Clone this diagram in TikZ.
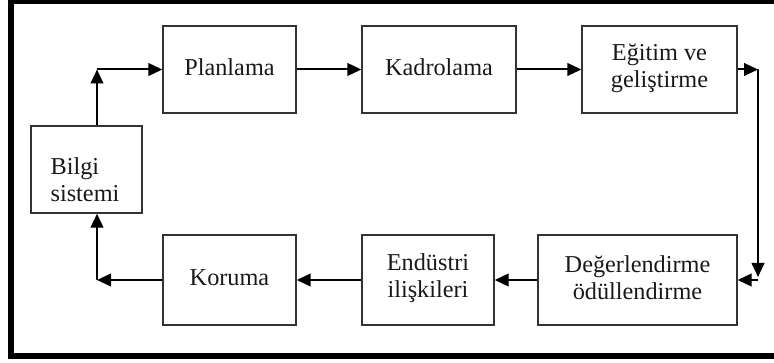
\documentclass[tikz,border=0pt]{standalone}
\usepackage{fontspec}
\setmainfont{Liberation Serif}
\usetikzlibrary{arrows.meta,calc}
\begin{document}
\begin{tikzpicture}[x=0.75pt,y=-0.75pt,
  box/.style={draw=black!80,line width=1pt,rectangle,inner sep=0pt},
  lbl/.style={font=\fontsize{18.2}{20.5}\selectfont,align=center,inner sep=0pt,text=black!90},
  conn/.style={line width=1.5pt,-{Triangle[length=10.5pt,width=9.5pt]}},
  plain/.style={line width=1.5pt}]
\useasboundingbox (0,0) rectangle (774,363);
% outer frame (right side outside the picture)
\draw[line width=3.8pt] (790,1) -- (11,1) -- (11,356) -- (790,356);
% boxes
\node[box,minimum width=133*0.75pt,minimum height=87*0.75pt] (plan) at (229.5,69.5) {};
\node[box,minimum width=154*0.75pt,minimum height=87*0.75pt] (kadro) at (439,69.5) {};
\node[box,minimum width=155*0.75pt,minimum height=87*0.75pt] (egitim) at (659.5,69.5) {};
\node[box,minimum width=111*0.75pt,minimum height=87*0.75pt] (bilgi) at (86.5,169.5) {};
\node[box,minimum width=133*0.75pt,minimum height=90*0.75pt] (koruma) at (229.5,280) {};
\node[box,minimum width=132*0.75pt,minimum height=90*0.75pt] (endustri) at (428,280) {};
\node[box,minimum width=199*0.75pt,minimum height=90*0.75pt] (deger) at (637.5,280) {};
% labels
\node[lbl] (tplan) at (229.5,67) {Planlama};
\node[lbl] (tkadro) at (439,67) {Kadrolama};
\node[lbl] (tegitim) at (659.5,68) {Eğitim ve\\geliştirme};
\node[lbl,align=left] (tbilgi) at (85,180) {Bilgi\\sistemi};
\node[lbl] (tkoruma) at (229.5,278) {Koruma};
\node[lbl] (tendustri) at (428,278) {Endüstri\\ilişkileri};
\node[lbl] (tdeger) at (637.5,278) {Değerlendirme\\ödüllendirme};
% corner coordinates
\coordinate (c1) at (97,69.5);
\coordinate (c2) at (97,280);
\coordinate (c3) at (758,69.5);
\coordinate (c4) at (758,277);
% connectors
\draw[conn] (bilgi.north -| c1) -- (c1);
\draw[conn] (c1) -- (plan.west);
\draw[conn] (plan.east) -- (kadro.west);
\draw[conn] (kadro.east) -- (egitim.west);
\draw[conn] (egitim.east) -- (c3);
\draw[conn] (c3) -- (c4);
\draw[conn] (c4 |- deger.east) -- (deger.east);
\draw[conn] (deger.west) -- (endustri.east);
\draw[conn] (endustri.west) -- (koruma.east);
\draw[conn] (koruma.west) -- (c2);
\draw[conn] (c2) -- (bilgi.south -| c2);
\end{tikzpicture}
\end{document}
